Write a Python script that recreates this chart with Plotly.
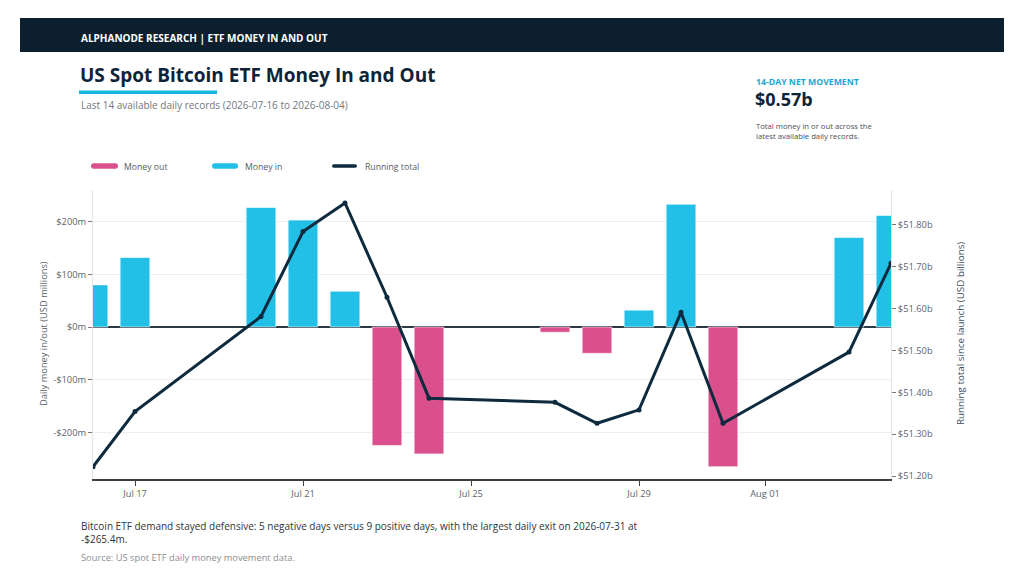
import plotly.graph_objects as go

# daily flows, USD millions
dates = ["2026-07-16", "2026-07-17", "2026-07-20", "2026-07-21", "2026-07-22",
         "2026-07-23", "2026-07-24", "2026-07-27", "2026-07-28", "2026-07-29",
         "2026-07-30", "2026-07-31", "2026-08-03", "2026-08-04"]
flows = [80, 132, 227, 203, 68, -225, -241, -10, -50, 32, 233, -265.4, 170, 212]
# running total since launch, USD billions
running = [51.222, 51.354, 51.581, 51.784, 51.852, 51.627, 51.386,
           51.376, 51.326, 51.358, 51.591, 51.326, 51.496, 51.708]

x_ticks = ["2026-07-17", "2026-07-21", "2026-07-25", "2026-07-29", "2026-08-01"]
x_labels = ["Jul 17", "Jul 21", "Jul 25", "Jul 29", "Aug 01"]
left_ticks = [-200, -100, 0, 100, 200]
left_labels = ["-$200m", "-$100m", "$0m", "$100m", "$200m"]
right_ticks = [51.2, 51.3, 51.4, 51.5, 51.6, 51.7, 51.8]
right_labels = ["$51.20b", "$51.30b", "$51.40b", "$51.50b", "$51.60b", "$51.70b", "$51.80b"]

PINK = "#d9508c"
CYAN = "#22bfe6"
NAVY = "#0d2a3e"
FONT = "Open Sans"

# page body adds an 8px margin, so work in page pixels and shift
OFF = 8
W, H = 1024 - OFF, 582 - OFF
L, R, T, B = 93, 891, 190, 479


def px(x):
    return (x - L) / (R - L)


def py(y):
    return (B - y) / (B - T)


out_x = [d for d, v in zip(dates, flows) if v < 0]
out_y = [v for v in flows if v < 0]
in_x = [d for d, v in zip(dates, flows) if v >= 0]
in_y = [v for v in flows if v >= 0]

bar_w = 0.707 * 86400000

fig = go.Figure()
fig.add_trace(go.Bar(x=out_x, y=out_y, name="Money out", width=bar_w,
                     marker=dict(color=PINK, line=dict(color="rgba(255,255,255,0.6)", width=1))))
fig.add_trace(go.Bar(x=in_x, y=in_y, name="Money in", width=bar_w,
                     marker=dict(color=CYAN, line=dict(color="rgba(255,255,255,0.6)", width=1))))
fig.add_trace(go.Scatter(x=dates, y=running, name="Running total", yaxis="y2",
                         mode="lines+markers", line=dict(color=NAVY, width=3),
                         marker=dict(color=NAVY, size=5)))

shapes = [
    # header band
    dict(type="rect", xref="paper", yref="paper", x0=px(20), x1=px(1004), y0=py(18), y1=py(52),
         fillcolor="#0b1f2f", line=dict(width=0), layer="below"),
    # title underline
    dict(type="rect", xref="paper", yref="paper", x0=px(79), x1=px(217), y0=py(90.5), y1=py(94),
         fillcolor="#14b6e0", line=dict(width=0)),
]


def pill(x0, x1, yc, h, color):
    r = h / 2
    a, b = px(x0), px(x1)
    ar, br = px(x0 + r), px(x1 - r)
    top, bot, mid = py(yc - r), py(yc + r), py(yc)
    path = (f"M {ar},{top} L {br},{top} Q {b},{top} {b},{mid} Q {b},{bot} {br},{bot} "
            f"L {ar},{bot} Q {a},{bot} {a},{mid} Q {a},{top} {ar},{top} Z")
    return dict(type="path", xref="paper", yref="paper", path=path,
                fillcolor=color, line=dict(width=0))


shapes.append(pill(91, 118, 166, 5.5, PINK))
shapes.append(pill(212, 238, 166, 5.5, CYAN))
shapes.append(pill(332, 357, 166, 3.5, NAVY))


def txt(x, y, text, size, color, bold=False, anchor="left", angle=0):
    if bold:
        text = f"<b>{text}</b>"
    return dict(x=px(x), y=py(y), xref="paper", yref="paper", text=text, showarrow=False,
                xanchor=anchor, yanchor="middle", textangle=angle, align="left",
                font=dict(family=FONT, size=size, color=color))


annotations = [
    txt(79, 38, "ALPHANODE RESEARCH | ETF MONEY IN AND OUT", 10, "#ffffff", bold=True),
    txt(78, 75, "US Spot Bitcoin ETF Money In and Out", 19, "#0d2436", bold=True),
    txt(79, 105, "Last 14 available daily records (2026-07-16 to 2026-08-04)", 10, "#6f7880"),
    txt(754, 82, "14-DAY NET MOVEMENT", 8.7, "#1aa7d3", bold=True),
    txt(753, 99, "$0.57b", 18, "#0d2436", bold=True),
    txt(754, 131, "Total money in or out across the<br>latest available daily records.", 7.7, "#4a4f55"),
    txt(122, 167, "Money out", 8.7, "#555c63"),
    txt(243, 167, "Money in", 8.7, "#555c63"),
    txt(363, 167, "Running total", 8.7, "#555c63"),
    txt(43, 334, "Daily money in/out (USD millions)", 9.3, "#5d656c", anchor="center", angle=-90),
    txt(960, 334, "Running total since launch (USD billions)", 9.8, "#3b4d5c", anchor="center", angle=-90),
    txt(79, 532, "Bitcoin ETF demand stayed defensive: 5 negative days versus 9 positive days, "
                 "with the largest daily exit on 2026-07-31 at<br>-$265.4m.", 10, "#2f3439"),
    txt(79, 557, "Source: US spot ETF daily money movement data.", 9.3, "#8a9096"),
]

fig.update_layout(
    width=W, height=H,
    margin=dict(l=L - OFF, r=W - (R - OFF), t=T - OFF, b=H - (B - OFF)),
    paper_bgcolor="white", plot_bgcolor="white",
    barmode="overlay", showlegend=False,
    font=dict(family=FONT, size=9, color="#5d656c"),
    shapes=shapes, annotations=annotations,
    xaxis=dict(type="date", range=["2026-07-16", "2026-08-04"],
               tickvals=x_ticks, ticktext=x_labels,
               showgrid=False, showline=True, linecolor="#3a4248", linewidth=1.5,
               ticks="outside", ticklen=5, tickcolor="#3a4248",
               tickfont=dict(size=9.3, color="#5d656c")),
    yaxis=dict(range=[-288.7, 260.2], tickvals=left_ticks, ticktext=left_labels,
               showgrid=True, gridcolor="#eeeeee", gridwidth=1,
               zeroline=True, zerolinecolor="#2c3a46", zerolinewidth=1.5,
               showline=True, linecolor="#e4e4e4", linewidth=1,
               ticks="outside", ticklen=4, tickcolor="#777777",
               tickfont=dict(size=9.3, color="#5d656c")),
    yaxis2=dict(range=[51.193, 51.883], overlaying="y", side="right",
                tickvals=right_ticks, ticktext=right_labels,
                showgrid=False, zeroline=False,
                showline=True, linecolor="#e4e4e4", linewidth=1,
                ticks="outside", ticklen=4, tickcolor="#777777",
                tickfont=dict(size=9.3, color="#5d656c")),
)

fig.write_html("out.html")
